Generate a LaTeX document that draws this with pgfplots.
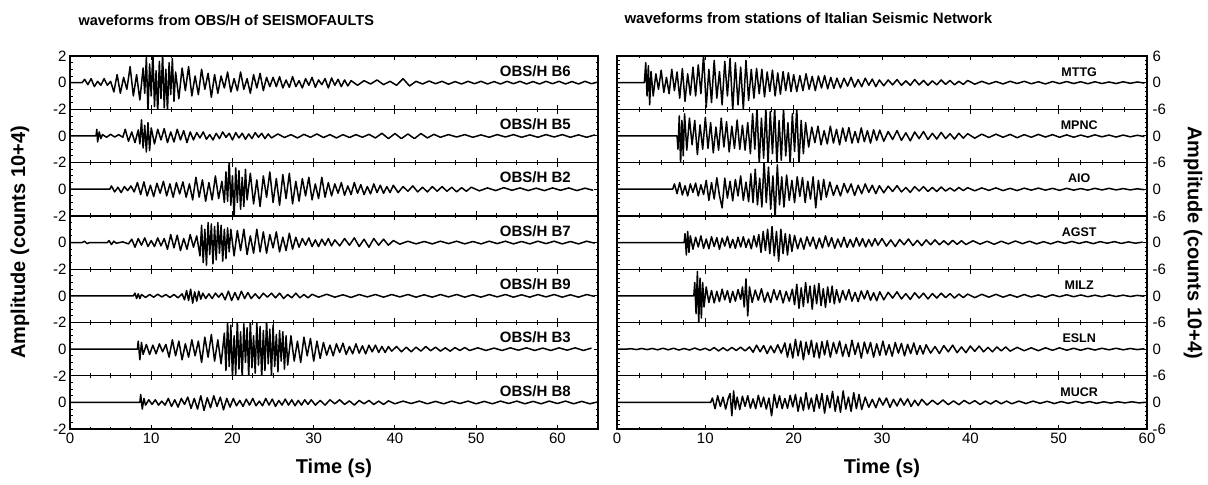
\documentclass[border=0pt]{standalone}
\usepackage{pgfplots}
\pgfplotsset{compat=1.18}
\usepackage{fontspec}
\setmainfont{Liberation Sans}
\newcommand{\fs}[1]{\fontsize{#1bp}{#1bp}\selectfont}
\pgfplotsset{
  base/.style={scale only axis, height=53.3bp, anchor=north west,
    tick align=inside, major tick length=4.5bp, minor tick length=2.5bp,
    axis line style={line width=1.3bp},
    every tick/.style={black,line width=0.9bp},
    xtick={0,10,20,30,40,50,60}, minor x tick num=3, xticklabels={},
    tick label style={font=\fs{15}},
    cycle list={{black,mark=none}},
    every axis plot post/.append style={black,line width=1.5bp,line join=round},
    every axis x label/.style={at={(axis description cs:0.5,-0.74)},anchor=center,font=\fs{20}\bfseries},
  },
  Lp/.style={base, width=528bp, xmin=0, xmax=65, ymin=-2, ymax=2, ytick={-2,0,2}, minor y tick num=3, yticklabels={-2,0,{}}},
  Rp/.style={base, width=530bp, xmin=0, xmax=60, ymin=-6, ymax=6, ytick={-6,0,6}, minor y tick num=5, yticklabel pos=right, yticklabels={-6,0,{}}, yticklabel style={xshift=2bp}},
}
\tikzset{
  lab/.style={font=\fs{15}\bfseries, anchor=east},
  rlab/.style={font=\fs{12.5}\bfseries, anchor=center},
}
\begin{document}
\begin{tikzpicture}
\path (0bp,0bp) rectangle (1208bp,485bp);
\node[anchor=base west,font=\fs{14.5}\bfseries] at (75bp,459bp) {waveforms from OBS/H of SEISMOFAULTS};
\node[anchor=base west,font=\fs{15}\bfseries] at (621bp,461bp) {waveforms from stations of Italian Seismic Network};
% ---------------- LEFT ----------------
\begin{axis}[Lp, at={(70bp,429bp)}, yticklabels={-2,0,2}]
\addplot coordinates {(0,0)(1.5,0)(1.8,0.25)(2.2,-0.15)(2.6,0.3)(3.0,-0.3)(3.4,0.1)(3.8,-0.2)(4.2,0.3)(4.6,-0.2)(5.0,0.1)
(5.4,-0.7)(5.8,0.6)(6.2,-0.8)(6.6,0.4)(7.0,-0.5)(7.4,1.2)(7.8,-1.0)(8.2,0.6)(8.6,-1.3)(9.0,1.1)
(9.2,-0.8)(9.4,1.9)(9.6,-2.2)(9.8,1.4)(10.0,-1.0)(10.2,2.3)(10.4,-1.8)(10.6,0.9)(10.8,-2.3)(11.0,1.6)(11.2,-1.2)(11.4,2.2)(11.6,-1.9)(11.8,1.0)(12.0,-2.2)(12.2,1.5)(12.4,-0.9)(12.6,1.8)(12.8,-1.4)(13.0,0.8)
(13.4,-1.2)(13.8,1.1)(14.2,-0.6)(14.6,1.2)(15.0,-1.0)(15.4,0.5)(15.8,-0.9)(16.2,1.0)(16.6,-0.5)(17.0,0.7)(17.4,-1.1)(17.8,0.6)
(18.2,-0.8)(18.6,0.5)(19.0,-0.4)(19.4,0.8)(19.8,-0.7)(20.2,0.3)(20.6,-0.6)(21.0,0.8)(21.4,-0.5)(21.8,0.3)(22.2,-0.8)(22.6,0.6)(23.0,-0.4)(23.4,0.7)(23.8,-0.6)(24.2,0.4)(24.6,-0.3)
(25.0,0.4)(25.4,-0.3)(25.8,0.45)(26.2,-0.4)(26.6,0.2)(27.0,-0.35)(27.4,0.45)(27.8,-0.3)(28.2,0.15)(28.6,-0.4)(29.0,0.3)(29.4,-0.2)(29.8,0.4)(30.2,-0.35)(30.6,0.2)(31.0,-0.15)(31.4,0.3)(31.8,-0.4)(32.2,0.35)(32.6,-0.2)(33.0,0.25)(33.4,-0.3)(33.8,0.2)(34.2,-0.25)(34.6,0.15)
(35.4,-0.2)(36.2,0.15)(37.0,-0.1)(37.8,0.2)(38.6,-0.15)(39.4,0.1)(40.2,-0.2)(41.0,0.3)(41.8,-0.25)(42.6,0.1)(43.4,-0.1)(44.2,0.12)(45.0,-0.08)(45.8,0.1)(46.6,-0.12)(47.4,0.08)(48.2,-0.1)(49.0,0.1)(49.8,-0.08)(50.6,0.1)(51.4,-0.1)(52.2,0.08)(53.0,-0.1)(53.8,0.1)(54.6,-0.08)(55.4,0.1)(56.2,-0.1)(57.0,0.08)(57.8,-0.1)(58.6,0.1)(59.4,-0.08)(60.2,0.1)(61.0,-0.1)(61.8,0.08)(62.6,-0.1)(63.4,0.1)(64.2,-0.08)(65.0,0.05)};
\node[lab] at (rel axis cs:0.955,0.72) {OBS/H B6};
\end{axis}
\begin{axis}[Lp, at={(70bp,375.7bp)}]
\addplot coordinates {(0,0)(3.2,0)(3.3,0.5)(3.4,-0.45)(3.6,0.3)(3.8,-0.2)(4.0,0.1)(4.5,-0.1)(5.0,0.12)(5.5,-0.08)(6.0,0.1)(6.5,-0.1)
(6.8,0.5)(7.2,-0.4)(7.6,0.3)(8.0,-0.5)(8.4,0.45)(8.6,-0.6)(8.8,1.2)(9.0,-0.9)(9.2,0.8)(9.4,-1.2)(9.6,1.0)(9.8,-1.1)(10.0,0.6)
(10.4,-0.6)(10.8,0.5)(11.2,-0.3)(11.6,0.55)(12.0,-0.5)(12.4,0.3)(12.8,-0.45)(13.2,0.5)(13.6,-0.3)(14.0,0.4)(14.4,-0.5)(14.8,0.3)
(15.2,-0.3)(15.6,0.25)(16.0,-0.15)(16.4,0.3)(16.8,-0.25)(17.2,0.1)(17.6,-0.3)(18.0,0.2)(18.4,-0.2)(18.8,0.3)(19.2,-0.1)(19.6,0.2)(20.0,-0.3)(20.4,0.25)(20.8,-0.15)(21.2,0.2)(21.6,-0.25)(22.0,0.15)(22.4,-0.2)(22.8,0.25)(23.2,-0.1)(23.6,0.2)(24.0,-0.2)(24.4,0.15)(24.8,-0.15)
(25.6,0.15)(26.4,-0.12)(27.2,0.1)(28.0,-0.15)(28.8,0.12)(29.6,-0.1)(30.4,0.15)(31.2,-0.12)(32.0,0.1)(32.8,-0.15)(33.6,0.1)(34.4,-0.12)(35.2,0.1)(36.0,-0.1)(36.8,0.12)(37.6,-0.15)(38.4,0.2)(39.2,-0.2)(40.0,0.18)(40.8,-0.2)(41.6,0.15)(42.4,-0.2)(43.2,0.18)(44.0,-0.15)(44.8,0.12)(45.6,-0.1)
(46.6,0.1)(47.6,-0.08)(48.6,0.1)(49.6,-0.1)(50.6,0.08)(51.6,-0.1)(52.6,0.1)(53.6,-0.08)(54.6,0.1)(55.6,-0.1)(56.6,0.08)(57.6,-0.1)(58.6,0.1)(59.6,-0.08)(60.6,0.1)(61.6,-0.1)(62.6,0.08)(63.6,-0.1)(64.6,0.08)};
\node[lab] at (rel axis cs:0.955,0.72) {OBS/H B5};
\end{axis}
\begin{axis}[Lp, at={(70bp,322.4bp)}]
\addplot coordinates {(0,0)(4.9,0)(5.1,0.25)(5.5,-0.2)(5.9,0.15)(6.3,-0.25)(6.7,0.2)(7.1,-0.1)(7.5,0.25)(7.9,-0.2)
(8.3,0.5)(8.7,-0.4)(9.1,0.55)(9.5,-0.5)(9.9,0.3)(10.3,-0.55)(10.7,0.45)(11.1,-0.3)(11.5,0.6)(11.9,-0.5)(12.3,0.4)(12.7,-0.6)(13.1,0.5)(13.5,-0.35)(13.9,0.55)(14.3,-0.6)(14.7,0.4)
(15.1,-0.8)(15.5,0.9)(15.9,-0.6)(16.3,0.7)(16.7,-0.9)(17.1,0.5)(17.5,-0.8)(17.9,1.0)(18.3,-0.7)(18.7,0.6)
(19.0,-1.0)(19.2,1.3)(19.4,-0.9)(19.6,2.2)(19.8,-1.2)(20.0,1.0)(20.2,-2.2)(20.4,1.6)(20.6,-1.0)(20.8,1.4)(21.0,-1.5)(21.2,0.9)(21.4,-1.3)(21.6,1.5)(21.8,-0.8)
(22.2,1.2)(22.6,-1.1)(23.0,0.7)(23.4,-1.3)(23.8,1.0)(24.2,-0.6)(24.6,1.3)(25.0,-1.0)(25.4,0.8)(25.8,-1.2)(26.2,1.1)(26.6,-0.7)(27.0,1.2)(27.4,-1.1)(27.8,0.6)
(28.2,-0.9)(28.6,0.8)(29.0,-0.5)(29.4,0.9)(29.8,-0.8)(30.2,0.4)(30.6,-0.7)(31.0,0.9)(31.4,-0.6)(31.8,0.5)
(32.2,-0.5)(32.6,0.4)(33.0,-0.3)(33.4,0.5)(33.8,-0.45)(34.2,0.25)(34.6,-0.4)(35.0,0.5)(35.4,-0.3)(35.8,0.35)(36.2,-0.4)(36.6,0.2)(37.0,-0.35)(37.4,0.4)(37.8,-0.25)(38.2,0.3)(38.6,-0.3)(39.0,0.2)(39.4,-0.25)(39.8,0.3)
(40.4,-0.25)(41.0,0.2)(41.6,-0.15)(42.2,0.25)(42.8,-0.2)(43.4,0.15)(44.0,-0.2)(44.6,0.2)(45.2,-0.15)(45.8,0.2)(46.4,-0.15)(47.0,0.15)(47.6,-0.2)(48.2,0.12)(48.8,-0.15)(49.4,0.15)
(50.4,-0.12)(51.4,0.1)(52.4,-0.1)(53.4,0.12)(54.4,-0.08)(55.4,0.1)(56.4,-0.1)(57.4,0.08)(58.4,-0.1)(59.4,0.1)(60.4,-0.08)(61.4,0.1)(62.4,-0.1)(63.4,0.08)(64.4,-0.08)};
\node[lab] at (rel axis cs:0.955,0.72) {OBS/H B2};
\end{axis}
\begin{axis}[Lp, at={(70bp,269.1bp)}, ylabel={Amplitude (counts 10+4)},
  every axis y label/.style={at={(axis description cs:-0.095,0.5)},rotate=90,anchor=center,font=\fs{20}\bfseries}]
\addplot coordinates {(0,0)(1.5,0)(1.8,0.1)(2.1,-0.08)(2.4,0)(4.6,0)(4.8,0.15)(5.1,-0.15)(5.4,0.1)(5.7,-0.05)(6.5,0.05)(7.2,-0.1)
(7.6,0.25)(8.0,-0.35)(8.4,0.3)(8.8,-0.2)(9.2,0.35)(9.6,-0.3)(10.0,0.15)(10.4,-0.3)(10.8,0.35)(11.2,-0.25)(11.6,0.3)
(12.0,-0.5)(12.4,0.6)(12.8,-0.4)(13.2,0.55)(13.6,-0.6)(14.0,0.3)(14.4,-0.5)(14.8,0.6)(15.2,-0.35)(15.6,0.5)
(16.0,-1.0)(16.2,1.3)(16.4,-1.5)(16.6,1.0)(16.8,-1.7)(17.0,1.5)(17.2,-0.9)(17.4,1.4)(17.6,-1.6)(17.8,1.2)(18.0,-1.3)(18.2,1.5)(18.4,-0.8)(18.6,1.3)(18.8,-1.4)(19.0,1.0)(19.2,-1.2)(19.4,1.1)(19.6,-0.7)(19.8,1.0)
(20.2,-1.0)(20.6,0.9)(21.0,-0.6)(21.4,1.0)(21.8,-0.9)(22.2,0.5)(22.6,-0.8)(23.0,1.0)(23.4,-0.7)(23.8,0.8)
(24.2,-0.8)(24.6,0.6)(25.0,-0.4)(25.4,0.8)(25.8,-0.7)(26.2,0.4)(26.6,-0.6)(27.0,0.7)(27.4,-0.5)(27.8,0.4)
(28.2,-0.35)(28.6,0.3)(29.0,-0.2)(29.4,0.35)(29.8,-0.3)(30.2,0.2)(30.6,-0.3)(31.0,0.25)(31.4,-0.2)(31.8,0.3)(32.2,-0.25)(32.6,0.2)
(33.2,-0.25)(33.8,0.3)(34.4,-0.2)(35.0,0.35)(35.6,-0.3)(36.2,0.25)(36.8,-0.35)(37.4,0.3)(38.0,-0.2)(38.6,0.25)(39.2,-0.2)(39.8,0.15)
(40.6,-0.12)(41.6,0.1)(42.6,-0.1)(43.6,0.08)(44.6,-0.1)(45.6,0.1)(46.6,-0.08)(47.6,0.1)(48.6,-0.1)(49.6,0.08)(50.6,-0.1)(51.6,0.1)(52.6,-0.08)(53.6,0.1)(54.6,-0.1)(55.6,0.08)(56.6,-0.1)(57.6,0.1)(58.6,-0.08)(59.6,0.1)(60.6,-0.1)(61.6,0.08)(62.6,-0.1)(63.6,0.1)(64.6,-0.05)};
\node[lab] at (rel axis cs:0.955,0.72) {OBS/H B7};
\end{axis}
\begin{axis}[Lp, at={(70bp,215.8bp)}]
\addplot coordinates {(0,0)(7.8,0)(8.0,0.2)(8.2,-0.2)(8.4,0.15)(8.6,-0.2)(8.8,0.1)
(9.3,-0.12)(9.8,0.1)(10.3,-0.1)(10.8,0.12)(11.3,-0.08)(11.8,0.1)(12.3,-0.12)(12.8,0.1)(13.3,-0.15)(13.8,0.15)
(14.1,-0.3)(14.35,0.4)(14.6,-0.35)(14.85,0.5)(15.1,-0.55)(15.35,0.3)(15.6,-0.4)(15.85,0.35)(16.1,-0.25)(16.35,0.2)
(16.7,-0.2)(17.1,0.15)(17.5,-0.2)(17.9,0.2)(18.3,-0.1)(18.7,0.2)
(19.1,-0.3)(19.5,0.35)(19.9,-0.35)(20.3,0.25)(20.7,-0.3)(21.1,0.35)(21.5,-0.2)(21.9,0.25)
(22.3,-0.2)(22.8,0.15)(23.3,-0.2)(23.8,0.2)(24.3,-0.1)(24.8,0.2)(25.3,-0.15)(25.8,0.2)(26.3,-0.2)(26.8,0.1)(27.3,-0.15)(27.8,0.2)(28.3,-0.15)(28.8,0.1)(29.3,-0.15)(29.8,0.12)
(30.6,-0.1)(31.6,0.12)(32.6,-0.1)(33.6,0.08)(34.6,-0.12)(35.6,0.1)(36.6,-0.08)(37.6,0.1)(38.6,-0.1)(39.6,0.1)(40.6,-0.08)(41.6,0.1)(42.6,-0.1)(43.6,0.08)(44.6,-0.1)(45.6,0.1)(46.6,-0.08)(47.6,0.1)(48.6,-0.1)(49.6,0.08)(50.6,-0.1)(51.6,0.1)(52.6,-0.08)(53.6,0.1)(54.6,-0.1)(55.6,0.08)(56.6,-0.1)(57.6,0.1)(58.6,-0.08)(59.6,0.1)(60.6,-0.1)(61.6,0.08)(62.6,-0.1)(63.6,0.1)(64.6,-0.05)};
\node[lab] at (rel axis cs:0.955,0.72) {OBS/H B9};
\end{axis}
\begin{axis}[Lp, at={(70bp,162.5bp)}]
\addplot coordinates {(0,0)(8.3,0)(8.4,0.6)(8.6,-0.8)(8.8,0.5)(9.0,-0.4)
(9.4,0.35)(9.8,-0.4)(10.2,0.3)(10.6,-0.35)(11.0,0.4)(11.4,-0.2)(11.8,0.35)
(12.2,-0.6)(12.6,0.7)(13.0,-0.5)(13.4,0.6)(13.8,-0.8)(14.2,0.4)(14.6,-0.6)(15.0,0.7)(15.4,-0.5)(15.8,0.6)
(16.2,-1.0)(16.6,0.9)(17.0,-0.6)(17.4,1.1)(17.8,-0.9)(18.2,0.7)(18.6,-1.1)
(19.0,1.2)(19.2,-1.6)(19.4,2.1)(19.6,-1.3)(19.8,1.8)(20.0,-2.2)(20.2,1.0)(20.4,-1.9)(20.6,2.2)(20.8,-1.5)(21.0,1.3)(21.2,-2.2)(21.4,1.9)(21.6,-1.0)(21.8,1.6)(22.0,-2.1)(22.2,2.2)(22.4,-1.4)(22.6,1.0)(22.8,-1.8)(23.0,2.0)(23.2,-1.2)(23.4,1.7)(23.6,-2.2)(23.8,1.4)(24.0,-1.6)(24.2,2.2)(24.4,-1.1)(24.6,1.5)(24.8,-2.0)(25.0,1.8)(25.2,-1.3)(25.4,1.1)(25.6,-1.7)(25.8,1.4)(26.0,-0.9)(26.2,1.3)(26.4,-1.5)(26.6,1.0)(26.8,-1.2)
(27.2,1.0)(27.6,-0.9)(28.0,0.6)(28.4,-1.0)(28.8,0.9)(29.2,-0.5)(29.6,0.8)(30.0,-0.9)(30.4,0.6)(30.8,-0.7)
(31.2,0.5)(31.6,-0.45)(32.0,0.3)(32.4,-0.5)(32.8,0.4)(33.2,-0.25)(33.6,0.45)(34.0,-0.4)(34.4,0.2)(34.8,-0.35)(35.2,0.4)(35.6,-0.3)(36.0,0.25)(36.4,-0.35)(36.8,0.3)(37.2,-0.2)(37.6,0.3)(38.0,-0.25)(38.4,0.2)(38.8,-0.25)(39.2,0.2)(39.6,-0.15)
(40.2,0.2)(40.8,-0.2)(41.4,0.15)(42.0,-0.2)(42.6,0.15)(43.2,-0.15)(43.8,0.2)(44.4,-0.12)(45.0,0.15)(45.6,-0.15)(46.2,0.1)(46.8,-0.15)(47.4,0.12)(48.0,-0.1)(48.6,0.12)(49.2,-0.1)
(50.2,0.1)(51.2,-0.1)(52.2,0.08)(53.2,-0.1)(54.2,0.1)(55.2,-0.08)(56.2,0.1)(57.2,-0.1)(58.2,0.08)(59.2,-0.1)(60.2,0.1)(61.2,-0.08)(62.2,0.1)(63.2,-0.1)(64.2,0.08)};
\node[lab] at (rel axis cs:0.955,0.72) {OBS/H B3};
\end{axis}
\begin{axis}[Lp, at={(70bp,109.2bp)}, xticklabels={0,10,20,30,40,50,60}, xlabel={Time (s)}]
\addplot coordinates {(0,0)(8.6,0)(8.7,0.6)(8.9,-0.5)(9.1,0.3)(9.3,-0.2)
(9.7,0.2)(10.1,-0.15)(10.5,0.2)(10.9,-0.2)(11.3,0.1)(11.7,-0.2)
(12.1,0.3)(12.5,-0.3)(12.9,0.2)(13.3,-0.35)(13.7,0.3)(14.1,-0.15)
(14.5,0.4)(14.9,-0.45)(15.3,0.3)(15.7,-0.5)(16.1,0.5)(16.5,-0.6)(16.9,0.35)(17.3,-0.4)(17.7,0.5)(18.1,-0.3)(18.5,0.4)(18.9,-0.55)(19.3,0.3)(19.7,-0.35)
(20.1,0.3)(20.5,-0.25)(20.9,0.15)(21.3,-0.3)(21.7,0.25)(22.1,-0.2)(22.5,0.3)(22.9,-0.25)(23.3,0.1)(23.7,-0.25)(24.1,0.3)(24.5,-0.2)(24.9,0.25)(25.3,-0.3)(25.7,0.15)(26.1,-0.2)(26.5,0.25)(26.9,-0.2)(27.3,0.2)(27.7,-0.25)(28.1,0.15)(28.5,-0.2)(28.9,0.2)(29.3,-0.15)(29.7,0.2)
(30.2,-0.2)(30.8,0.15)(31.4,-0.2)(32.0,0.2)(32.6,-0.1)(33.2,0.2)(33.8,-0.15)(34.4,0.12)(35.0,-0.2)(35.6,0.15)(36.2,-0.1)(36.8,0.15)(37.4,-0.15)(38.0,0.1)(38.6,-0.15)(39.2,0.12)
(40.0,-0.1)(41.0,0.1)(42.0,-0.08)(43.0,0.1)(44.0,-0.1)(45.0,0.08)(46.0,-0.1)(47.0,0.1)(48.0,-0.08)(49.0,0.1)(50.0,-0.1)(51.0,0.08)(52.0,-0.1)(53.0,0.1)(54.0,-0.08)(55.0,0.1)(56.0,-0.1)(57.0,0.08)(58.0,-0.1)(59.0,0.1)(60.0,-0.08)(61.0,0.1)(62.0,-0.1)(63.0,0.08)(64.0,-0.1)(65.0,0.05)};
\node[lab] at (rel axis cs:0.955,0.72) {OBS/H B8};
\end{axis}
% ---------------- RIGHT ----------------
\begin{axis}[Rp, at={(617bp,429bp)}, yticklabels={-6,0,6}]
\addplot coordinates {(0,0)(3.1,0)(3.25,4.5)(3.4,-3.0)(3.55,3.8)(3.7,-5.0)(3.85,2.5)
(4.1,-3.0)(4.4,2.0)(4.7,-1.5)(5.0,2.8)(5.3,-2.2)(5.6,1.2)(5.9,-2.5)(6.2,3.0)(6.5,-1.8)(6.8,2.4)
(7.1,-3.5)(7.4,3.2)(7.7,-4.2)(8.0,2.0)(8.3,-2.8)(8.6,3.5)(8.9,-3.0)
(9.2,4.0)(9.5,-2.5)(9.8,6.3)(10.1,-5.5)(10.4,3.0)(10.7,-4.5)(11.0,5.0)(11.3,-3.5)(11.6,2.5)(11.9,-5.0)(12.2,4.8)(12.5,-3.0)(12.8,5.5)(13.1,-6.3)(13.4,4.5)(13.7,-5.0)(14.0,3.5)(14.3,-6.0)(14.6,5.0)(14.9,-4.0)(15.2,3.0)(15.5,-3.5)
(15.8,3.2)(16.1,-2.5)(16.4,3.0)(16.7,-3.2)(17.0,2.4)(17.3,-2.0)(17.6,2.8)(17.9,-3.0)(18.2,2.2)(18.5,-2.6)(18.8,2.5)(19.1,-1.8)(19.4,2.2)(19.7,-2.0)
(20.0,1.8)(20.35,-2.0)(20.7,1.6)(21.05,-1.8)(21.4,2.0)(21.75,-1.5)(22.1,1.4)(22.45,-1.8)(22.8,1.5)(23.15,-1.2)(23.5,1.6)(23.85,-1.4)(24.2,1.2)(24.55,-1.3)(24.9,1.0)
(25.3,-1.2)(25.7,1.0)(26.1,-0.8)(26.5,1.2)(26.9,-1.0)(27.3,0.7)(27.7,-0.9)(28.1,1.0)(28.5,-0.6)(28.9,0.8)(29.3,-0.9)(29.7,0.6)
(30.2,-0.7)(30.7,0.6)(31.2,-0.5)(31.7,0.7)(32.2,-0.6)(32.7,0.4)(33.2,-0.6)(33.7,0.7)(34.2,-0.5)(34.7,0.5)(35.2,-0.6)(35.7,0.4)(36.2,-0.5)(36.7,0.6)(37.2,-0.4)(37.7,0.5)(38.2,-0.5)(38.7,0.3)(39.2,-0.4)(39.7,0.5)
(40.5,-0.35)(41.3,0.3)(42.1,-0.3)(42.9,0.25)(43.7,-0.3)(44.5,0.3)(45.3,-0.2)(46.1,0.3)(46.9,-0.25)(47.7,0.2)(48.5,-0.3)(49.3,0.25)(50.1,-0.2)(50.9,0.25)(51.7,-0.2)(52.5,0.2)(53.3,-0.25)(54.1,0.2)(54.9,-0.2)(55.7,0.15)(56.5,-0.2)(57.3,0.2)(58.1,-0.15)(58.9,0.15)(59.7,-0.1)};
\node[rlab] at (rel axis cs:0.872,0.70) {MTTG};
\end{axis}
\begin{axis}[Rp, at={(617bp,375.7bp)}]
\addplot coordinates {(0,0)(6.8,0)(6.9,-3.0)(7.05,4.5)(7.2,-6.3)(7.35,3.5)(7.5,-4.5)(7.65,5.0)
(7.9,-3.2)(8.2,4.0)(8.5,-2.0)(8.8,3.5)(9.1,-4.2)(9.4,2.5)(9.7,-3.0)(10.0,4.2)(10.3,-2.8)(10.6,3.0)(10.9,-3.8)(11.2,2.0)(11.5,-3.2)(11.8,4.0)(12.1,-2.5)(12.4,3.2)(12.7,-3.6)(13.0,2.2)(13.3,-2.8)(13.6,3.6)(13.9,-3.0)(14.2,2.4)(14.5,-3.2)(14.8,3.0)
(15.1,-4.0)(15.35,5.0)(15.6,-3.0)(15.85,6.3)(16.1,-6.3)(16.35,4.0)(16.6,-5.0)(16.85,6.3)(17.1,-6.3)(17.35,5.5)(17.6,-4.0)(17.85,6.3)(18.1,-6.3)(18.35,3.5)(18.6,-5.5)(18.85,6.3)(19.1,-4.5)(19.35,3.0)(19.6,-6.3)(19.85,5.0)(20.1,-3.5)(20.35,6.3)(20.6,-6.3)(20.85,3.5)(21.1,-4.0)(21.35,3.0)
(21.7,-2.5)(22.05,2.0)(22.4,-1.5)(22.75,2.2)(23.1,-2.0)(23.45,1.2)(23.8,-1.8)(24.15,2.2)(24.5,-1.6)(24.85,1.5)(25.2,-2.0)(25.55,1.8)(25.9,-1.2)(26.25,1.9)(26.6,-1.6)(26.95,1.0)(27.3,-1.5)(27.65,1.8)(28.0,-1.3)(28.35,1.2)(28.7,-1.6)(29.05,1.4)(29.4,-1.0)(29.75,1.3)
(30.2,-1.2)(30.7,1.0)(31.2,-0.8)(31.7,1.2)(32.2,-1.0)(32.7,0.7)(33.2,-1.1)(33.7,0.9)(34.2,-0.6)(34.7,1.0)(35.2,-0.8)(35.7,0.6)(36.2,-0.7)(36.7,0.8)(37.2,-0.6)(37.7,0.5)(38.2,-0.7)(38.7,0.6)(39.2,-0.5)(39.7,0.5)
(40.5,-0.5)(41.3,0.4)(42.1,-0.35)(42.9,0.4)(43.7,-0.3)(44.5,0.35)(45.3,-0.4)(46.1,0.3)(46.9,-0.3)(47.7,0.35)(48.5,-0.25)(49.3,0.3)(50.1,-0.3)(50.9,0.25)(51.7,-0.3)(52.5,0.2)(53.3,-0.25)(54.1,0.25)(54.9,-0.2)(55.7,0.2)(56.5,-0.25)(57.3,0.2)(58.1,-0.2)(58.9,0.15)(59.7,-0.15)};
\node[rlab] at (rel axis cs:0.872,0.70) {MPNC};
\end{axis}
\begin{axis}[Rp, at={(617bp,322.4bp)}]
\addplot coordinates {(0,0)(6.3,0)(6.5,1.2)(6.8,-1.0)(7.1,1.5)(7.4,-1.3)(7.7,0.8)(8.0,-1.5)(8.3,1.2)(8.6,-0.7)(8.9,1.4)(9.2,-1.5)(9.5,1.0)(9.8,-1.2)
(10.1,2.0)(10.4,-2.5)(10.7,1.5)(11.0,-2.2)(11.3,2.6)(11.6,-1.4)(11.9,-4.2)(12.2,2.5)(12.5,-2.0)(12.8,1.8)(13.1,-2.6)(13.4,2.2)(13.7,-1.5)(14.0,3.0)(14.3,-2.5)(14.6,1.6)(14.9,-2.8)
(15.15,3.5)(15.4,-3.0)(15.65,4.5)(15.9,-3.5)(16.15,2.5)(16.4,-4.0)(16.65,6.3)(16.9,-3.0)(17.15,5.0)(17.4,-4.5)(17.65,3.0)(17.9,-6.3)(18.15,5.5)(18.4,-3.5)(18.65,2.8)(18.9,-4.0)
(19.2,3.2)(19.5,-2.5)(19.8,2.0)(20.1,-3.0)(20.4,2.8)(20.7,-1.6)(21.0,2.6)(21.3,-3.0)(21.6,1.8)(21.9,-2.2)(22.2,2.8)(22.5,-4.2)(22.8,2.0)(23.1,-2.4)(23.4,2.2)(23.7,-1.8)
(24.1,1.6)(24.5,-1.4)(24.9,0.9)(25.3,-1.5)(25.7,1.3)(26.1,-0.8)(26.5,1.2)(26.9,-1.4)(27.3,0.9)(27.7,-1.0)(28.1,1.2)(28.5,-0.7)(28.9,0.9)(29.3,-1.0)(29.7,0.8)
(30.2,-0.8)(30.7,0.7)(31.2,-0.5)(31.7,0.8)(32.2,-0.6)(32.7,0.4)(33.2,-0.7)(33.7,0.6)(34.2,-0.4)(34.7,0.6)(35.2,-0.5)(35.7,0.4)(36.2,-0.5)(36.7,0.5)(37.2,-0.4)(37.7,0.3)(38.2,-0.4)(38.7,0.4)(39.2,-0.3)(39.7,0.35)
(40.5,-0.35)(41.3,0.3)(42.1,-0.25)(42.9,0.3)(43.7,-0.3)(44.5,0.2)(45.3,-0.3)(46.1,0.25)(46.9,-0.2)(47.7,0.25)(48.5,-0.2)(49.3,0.2)(50.1,-0.25)(50.9,0.2)(51.7,-0.2)(52.5,0.15)(53.3,-0.2)(54.1,0.2)(54.9,-0.15)(55.7,0.2)(56.5,-0.15)(57.3,0.15)(58.1,-0.15)(58.9,0.1)(59.7,-0.1)};
\node[rlab] at (rel axis cs:0.872,0.70) {AIO};
\end{axis}
\begin{axis}[Rp, at={(617bp,269.1bp)}, ylabel={Amplitude (counts 10+4)},
  every axis y label/.style={at={(axis description cs:1.087,0.5)},rotate=-90,anchor=center,font=\fs{20}\bfseries}]
\addplot coordinates {(0,0)(7.6,0)(7.7,2.0)(7.85,-2.8)(8.0,2.5)(8.15,-2.2)(8.3,1.5)
(8.6,-1.5)(8.9,1.2)(9.2,-1.0)(9.5,1.5)(9.8,-1.3)(10.1,0.8)(10.4,-1.4)(10.7,1.3)(11.0,-0.9)(11.3,1.1)(11.6,-1.5)(11.9,1.0)(12.2,-0.8)(12.5,1.4)(12.8,-1.2)(13.1,0.7)(13.4,-1.3)(13.7,1.2)(14.0,-1.0)(14.3,1.3)(14.6,-1.1)(14.9,0.8)(15.2,-1.4)(15.5,1.5)(15.8,-1.0)
(16.05,1.8)(16.3,-2.2)(16.55,2.5)(16.8,-1.8)(17.05,3.0)(17.3,-2.5)(17.55,3.6)(17.8,-3.0)(18.05,2.5)(18.3,-4.2)(18.55,3.0)(18.8,-2.5)(19.05,2.0)(19.3,-2.8)(19.55,1.8)(19.8,-2.0)
(20.1,1.6)(20.45,-1.4)(20.8,1.0)(21.15,-1.5)(21.5,1.3)(21.85,-0.8)(22.2,1.2)(22.55,-1.4)(22.9,1.0)(23.25,-1.2)(23.6,1.5)(23.95,-0.9)(24.3,1.1)(24.65,-1.3)(25.0,0.8)(25.35,-1.0)(25.7,1.2)(26.05,-1.1)(26.4,0.7)(26.75,-1.0)(27.1,1.1)(27.45,-0.8)(27.8,0.9)(28.15,-1.0)(28.5,0.7)(28.85,-0.8)(29.2,0.9)(29.55,-0.6)
(30.0,0.9)(30.5,-0.8)(31.0,0.6)(31.5,-0.9)(32.0,0.7)(32.5,-0.5)(33.0,0.8)(33.5,-0.7)(34.0,0.5)(34.5,-0.7)(35.0,0.6)(35.5,-0.5)(36.0,0.6)(36.5,-0.5)(37.0,0.4)(37.5,-0.5)(38.0,0.5)(38.5,-0.4)(39.0,0.4)(39.5,-0.45)
(40.3,0.4)(41.1,-0.35)(41.9,0.3)(42.7,-0.4)(43.5,0.3)(44.3,-0.3)(45.1,0.35)(45.9,-0.25)(46.7,0.3)(47.5,-0.3)(48.3,0.2)(49.1,-0.3)(49.9,0.25)(50.7,-0.2)(51.5,0.25)(52.3,-0.2)(53.1,0.2)(53.9,-0.25)(54.7,0.2)(55.5,-0.15)(56.3,0.2)(57.1,-0.2)(57.9,0.15)(58.7,-0.15)(59.5,0.1)};
\node[rlab] at (rel axis cs:0.872,0.70) {AGST};
\end{axis}
\begin{axis}[Rp, at={(617bp,215.8bp)}]
\addplot coordinates {(0,0)(8.7,0)(8.8,3.0)(8.95,-4.0)(9.1,5.5)(9.25,-6.3)(9.4,4.0)(9.55,-5.0)(9.7,3.0)(9.85,-2.5)
(10.1,2.0)(10.4,-1.5)(10.7,1.2)(11.0,-1.6)(11.3,1.0)(11.6,-1.3)(11.9,1.5)(12.2,-0.9)(12.5,1.2)(12.8,-1.5)(13.1,1.0)(13.4,-1.2)(13.7,1.4)(14.0,-0.8)
(14.2,2.0)(14.4,-2.5)(14.6,3.8)(14.8,-4.5)(15.0,2.0)
(15.3,-1.5)(15.65,1.3)(16.0,-1.0)(16.35,1.6)(16.7,-1.4)(17.05,0.8)(17.4,-1.5)(17.75,1.4)(18.1,-0.9)(18.45,1.2)(18.8,-1.6)(19.15,1.0)(19.5,-1.2)(19.85,1.5)
(20.1,-2.0)(20.35,2.6)(20.6,-2.8)(20.85,1.8)(21.1,-2.4)(21.35,3.0)(21.6,-1.6)(21.85,2.2)(22.1,-3.0)(22.35,2.4)(22.6,-1.8)(22.85,2.8)(23.1,-2.2)(23.35,1.6)(23.6,-2.6)(23.85,2.0)(24.1,-1.5)(24.35,2.2)(24.6,-1.8)(24.85,1.4)
(25.2,-1.5)(25.55,1.2)(25.9,-0.9)(26.25,1.4)(26.6,-1.2)(26.95,0.8)(27.3,-1.3)(27.65,1.1)(28.0,-0.7)(28.35,1.2)(28.7,-1.0)(29.05,0.7)(29.4,-1.1)(29.75,0.9)
(30.2,-0.9)(30.7,0.8)(31.2,-0.5)(31.7,0.9)(32.2,-0.7)(32.7,0.5)(33.2,-0.8)(33.7,0.7)(34.2,-0.5)(34.7,0.6)(35.2,-0.7)(35.7,0.5)(36.2,-0.5)(36.7,0.6)(37.2,-0.4)(37.7,0.5)(38.2,-0.5)(38.7,0.4)(39.2,-0.4)(39.7,0.4)
(40.5,-0.4)(41.3,0.35)(42.1,-0.3)(42.9,0.35)(43.7,-0.3)(44.5,0.25)(45.3,-0.3)(46.1,0.3)(46.9,-0.25)(47.7,0.2)(48.5,-0.3)(49.3,0.25)(50.1,-0.2)(50.9,0.25)(51.7,-0.2)(52.5,0.2)(53.3,-0.2)(54.1,0.15)(54.9,-0.2)(55.7,0.2)(56.5,-0.15)(57.3,0.15)(58.1,-0.15)(58.9,0.1)(59.7,-0.1)};
\node[rlab] at (rel axis cs:0.872,0.70) {MILZ};
\end{axis}
\begin{axis}[Rp, at={(617bp,162.5bp)}]
\addplot coordinates {(0,0)(1.0,0)(1.6,0.1)(2.2,-0.1)(2.8,0.15)(3.4,-0.1)(4.0,0.15)(4.6,-0.15)(5.2,0.2)(5.8,-0.15)(6.4,0.2)(7.0,-0.2)(7.6,0.15)(8.2,-0.2)(8.8,0.25)(9.4,-0.2)(10.0,0.2)
(10.5,-0.3)(11.0,0.35)(11.5,-0.4)(12.0,0.3)(12.5,-0.35)(13.0,0.4)(13.5,-0.3)(14.0,0.45)(14.5,-0.4)
(15.0,0.5)(15.4,-0.7)(15.8,0.9)(16.2,-0.6)(16.6,0.8)(17.0,-1.0)(17.4,0.7)(17.8,-0.8)(18.2,1.0)(18.6,-0.9)
(19.0,1.4)(19.3,-1.8)(19.6,1.2)(19.9,-2.0)(20.2,2.2)(20.5,-1.5)(20.8,1.8)(21.1,-2.4)(21.4,1.6)(21.7,-1.2)(22.0,2.0)(22.3,-1.8)(22.6,1.4)(22.9,-2.0)(23.2,1.7)(23.5,-1.3)(23.8,1.9)
(24.15,-1.8)(24.5,1.5)(24.85,-1.0)(25.2,1.8)(25.55,-1.6)(25.9,1.1)(26.25,-1.7)(26.6,2.0)(26.95,-1.2)(27.3,1.4)(27.65,-2.0)(28.0,1.6)(28.35,-1.0)(28.7,1.5)(29.05,-1.8)(29.4,1.2)(29.75,-1.4)(30.1,1.8)(30.45,-1.3)(30.8,1.0)(31.15,-1.6)(31.5,1.5)(31.85,-0.9)(32.2,1.3)(32.55,-1.5)(32.9,1.1)(33.25,-1.0)(33.6,1.4)(33.95,-1.2)(34.3,0.8)(34.65,-1.1)
(35.0,1.0)(35.5,-0.9)(36.0,0.6)(36.5,-1.0)(37.0,0.8)(37.5,-0.6)(38.0,0.9)(38.5,-0.8)(39.0,0.5)(39.5,-0.8)(40.0,0.7)(40.5,-0.5)(41.0,0.7)(41.5,-0.6)(42.0,0.4)(42.5,-0.6)(43.0,0.5)(43.5,-0.4)(44.0,0.5)(44.5,-0.45)
(45.3,0.4)(46.1,-0.35)(46.9,0.3)(47.7,-0.35)(48.5,0.3)(49.3,-0.25)(50.1,0.3)(50.9,-0.25)(51.7,0.2)(52.5,-0.25)(53.3,0.2)(54.1,-0.2)(54.9,0.2)(55.7,-0.15)(56.5,0.2)(57.3,-0.15)(58.1,0.15)(58.9,-0.1)(59.7,0.1)};
\node[rlab] at (rel axis cs:0.872,0.70) {ESLN};
\end{axis}
\begin{axis}[Rp, at={(617bp,109.2bp)}, xticklabels={0,10,20,30,40,50,60}, xlabel={Time (s)}]
\addplot coordinates {(0,0)(10.6,0)(10.8,1.0)(11.1,-1.4)(11.4,1.5)(11.7,-0.9)(12.0,1.2)(12.3,-1.5)(12.6,1.0)
(12.8,2.0)(13.0,-3.0)(13.2,2.6)(13.4,-1.5)
(13.6,1.2)(13.9,-1.6)(14.2,1.4)(14.5,-0.9)(14.8,1.5)(15.1,-1.3)(15.4,0.8)(15.7,-1.4)(16.0,1.6)(16.3,-1.0)(16.6,1.2)(16.9,-1.5)(17.2,1.0)(17.5,-3.0)(17.8,1.8)(18.1,-1.2)(18.4,1.5)(18.7,-1.4)(19.0,0.9)(19.3,-1.3)(19.6,1.6)(19.9,-1.0)
(20.2,1.8)(20.5,-2.0)(20.8,1.2)(21.1,-1.8)(21.4,2.2)(21.7,-1.5)(22.0,1.0)(22.3,-2.0)(22.6,1.8)(22.9,-1.3)(23.2,2.0)(23.5,-2.4)(23.8,1.6)(24.1,-1.2)(24.4,2.5)(24.7,-2.0)(25.0,1.4)(25.3,-2.2)(25.6,2.6)(25.9,-1.5)(26.2,1.2)(26.5,-2.0)(26.8,2.2)(27.1,-1.4)(27.4,1.8)(27.7,-1.6)
(28.1,1.2)(28.5,-1.1)(28.9,0.7)(29.3,-1.2)(29.7,1.0)(30.1,-0.6)(30.5,1.0)(30.9,-1.1)(31.3,0.7)(31.7,-0.8)(32.1,0.9)(32.5,-0.6)(32.9,0.8)(33.3,-0.9)(33.7,0.5)(34.1,-0.7)(34.5,0.7)
(35.1,-0.6)(35.7,0.5)(36.3,-0.45)(36.9,0.55)(37.5,-0.5)(38.1,0.35)(38.7,-0.5)(39.3,0.45)(39.9,-0.3)(40.5,0.4)(41.1,-0.45)(41.7,0.3)(42.3,-0.35)(42.9,0.4)(43.5,-0.3)(44.1,0.3)(44.7,-0.3)
(45.5,0.3)(46.3,-0.25)(47.1,0.3)(47.9,-0.2)(48.7,0.25)(49.5,-0.25)(50.3,0.2)(51.1,-0.2)(51.9,0.25)(52.7,-0.15)(53.5,0.2)(54.3,-0.2)(55.1,0.15)(55.9,-0.15)(56.7,0.15)(57.5,-0.1)(58.3,0.15)(59.1,-0.1)(59.9,0.05)};
\node[rlab] at (rel axis cs:0.872,0.70) {MUCR};
\end{axis}
\end{tikzpicture}
\end{document}
